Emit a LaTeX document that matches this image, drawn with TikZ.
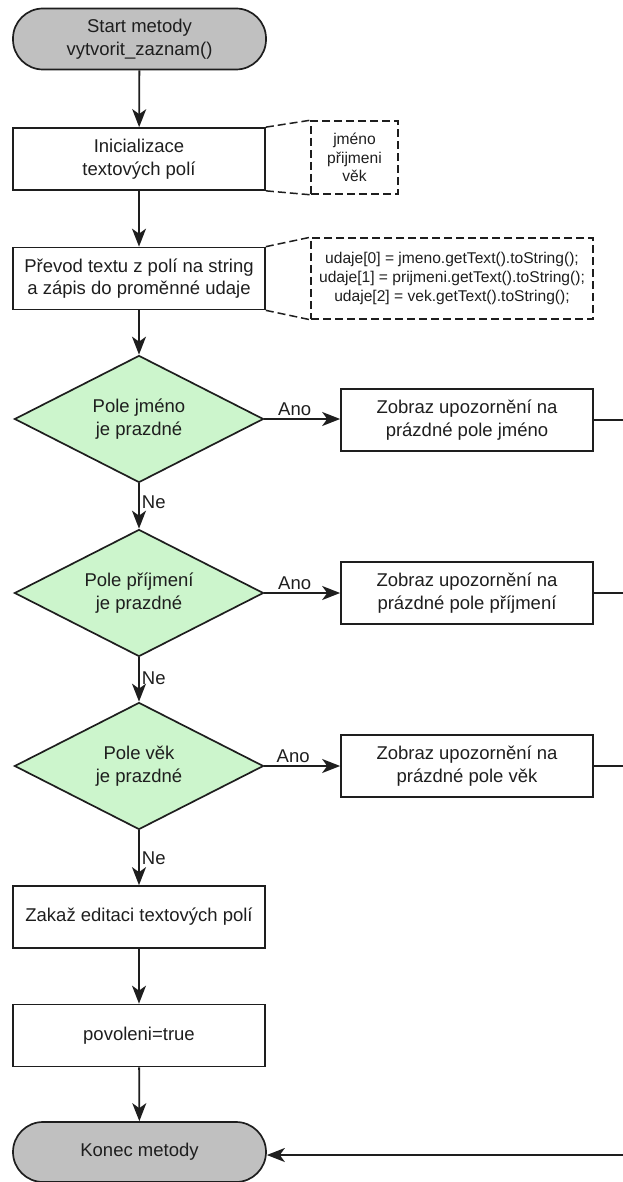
\documentclass[tikz,border=0pt]{standalone}
\usepackage{fontspec}
\setmainfont{Liberation Sans}
\usetikzlibrary{shapes.geometric,arrows.meta}
\definecolor{termfill}{RGB}{192,192,192}
\definecolor{decfill}{RGB}{204,245,204}
\definecolor{ink}{RGB}{30,30,30}
\tikzset{
  base/.style={draw=ink, line width=1.7pt, text=ink, align=center, inner sep=0pt,
    font=\fontsize{18.5}{22.5}\selectfont},
  terminal/.style={base, fill=termfill, rectangle, rounded corners=30pt,
    minimum width=253pt, minimum height=61pt},
  process/.style={base, rectangle, minimum width=252pt, minimum height=62pt},
  decision/.style={base, fill=decfill, diamond, aspect=2,
    minimum width=249pt, minimum height=127pt},
  note/.style={draw=ink, line width=1.5pt, dash pattern=on 8pt off 4pt, text=ink,
    align=center, inner sep=0pt, font=\fontsize{15.6}{18.7}\selectfont},
  noteline/.style={draw=ink, line width=1.5pt, dash pattern=on 8pt off 4pt},
  flow/.style={draw=ink, line width=1.8pt,
    -{Stealth[length=18pt, width=14pt, inset=5pt]}},
  plain/.style={draw=ink, line width=1.8pt},
  lbl/.style={text=ink, inner sep=2pt, font=\fontsize{18.5}{22}\selectfont}
}
\begin{document}
\begin{tikzpicture}[x=1pt, y=-1pt]
\useasboundingbox (0,0) rectangle (623,1182);

% main column
\node[terminal] (start) at (139.5,39) {Start metody\\vytvorit\_zaznam()};
\node[process] (init) at (139,159) {Inicializace\\textových polí};
\node[process] (prevod) at (139,278.5) {Převod textu z polí na string\\a zápis do proměnné udaje};
\node[decision] (d1) at (139,419) {Pole jméno\\je prazdné};
\node[decision] (d2) at (139,593) {Pole příjmení\\je prazdné};
\node[decision] (d3) at (139,766) {Pole věk\\je prazdné};
\node[process] (zakaz) at (139,917) {Zakaž editaci textových polí};
\node[process] (pov) at (139,1035.5) {povoleni=true};
\node[terminal, minimum height=60pt] (konec) at (139.5,1152) {Konec metody};

% warning boxes
\node[process] (w1) at (467,420) {Zobraz upozornění na\\prázdné pole jméno};
\node[process] (w2) at (467,593) {Zobraz upozornění na\\prázdné pole příjmení};
\node[process] (w3) at (467,766) {Zobraz upozornění na\\prázdné pole věk};

% annotations
\node[note, minimum width=87pt, minimum height=73pt] (n1) at (354.5,157.5) {jméno\\přijmeni\\věk};
\node[note, minimum width=282pt, minimum height=81pt] (n2) at (452,278.5)
  {udaje[0] = jmeno.getText().toString();\\udaje[1] = prijmeni.getText().toString();\\udaje[2] = vek.getText().toString();};
\draw[noteline] (init.north east) -- (n1.north west);
\draw[noteline] (init.south east) -- (n1.south west);
\draw[noteline] (prevod.north east) -- (n2.north west);
\draw[noteline] (prevod.south east) -- (n2.south west);

% flow
\draw[flow] (start) -- (init);
\draw[flow] (init) -- (prevod);
\draw[flow] (prevod) -- (d1);
\draw[flow] (d1) -- node[lbl, right, pos=0.42] {Ne} (d2);
\draw[flow] (d2) -- node[lbl, right, pos=0.48] {Ne} (d3);
\draw[flow] (d3) -- node[lbl, right, pos=0.5] {Ne} (zakaz);
\draw[flow] (zakaz) -- (pov);
\draw[flow] (pov) -- (konec);

\draw[flow] (d1.east) -- node[lbl, above, pos=0.4] {Ano} (w1.west |- d1.east);
\draw[flow] (d2.east) -- node[lbl, above, pos=0.4] {Ano} (w2.west |- d2.east);
\draw[flow] (d3.east) -- node[lbl, above, pos=0.38] {Ano} (w3.west |- d3.east);

% return lines running off to the right
\coordinate (r1) at (623,420);
\coordinate (r2) at (623,593);
\coordinate (r3) at (623,766);
\coordinate (r4) at (623,1155);
\draw[plain] (w1.east) -- (r1);
\draw[plain] (w2.east) -- (r2);
\draw[plain] (w3.east) -- (r3);
\draw[flow] (r4) -- (konec.east |- r4);
\end{tikzpicture}
\end{document}
